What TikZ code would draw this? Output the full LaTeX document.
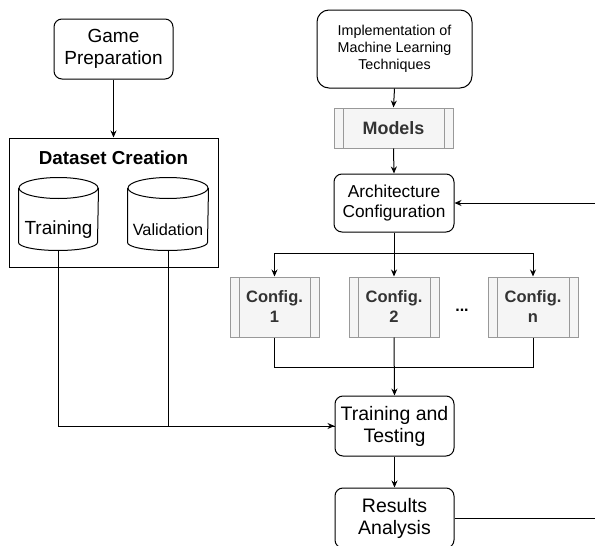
\documentclass[tikz,border=0pt]{standalone}
\usepackage{fontspec}
\setmainfont{Liberation Sans}
\usepackage{xcolor}
\usepackage{tikz}
\usetikzlibrary{shapes.geometric, arrows.meta, positioning, calc}

\definecolor{subfill}{HTML}{F5F5F5}
\definecolor{subline}{HTML}{999999}
\definecolor{subtext}{HTML}{333333}

\newcommand{\fs}[2]{\fontsize{#1}{#2}\selectfont}
% cylinder drawn round an (invisible) node
\newcommand{\dbdraw}[1]{%
    \draw ([yshift=-10.5pt]#1.north west) -- ([yshift=8pt]#1.south west)
        arc[start angle=180, end angle=360, x radius=\dbrx, y radius=8pt]
        -- ([yshift=-10.5pt]#1.north east);
    \draw ([yshift=-10.5pt]#1.north) ellipse[x radius=\dbrx, y radius=10.5pt];
}

\begin{document}
\begin{tikzpicture}[
    x=1pt, y=-1pt,
    line width=1pt,
    proc/.style={draw, rounded corners=8pt, fill=white, align=center, minimum width=119pt, minimum height=60pt, inner sep=1pt, font=\fs{19}{22}},
    subproc/.style={draw=subline, fill=subfill, text=subtext, align=center, minimum height=60pt, inner sep=1pt, font=\bfseries\fs{16.5}{20},
        path picture={
            \draw[subline] ([xshift=9pt]path picture bounding box.north west) -- ([xshift=9pt]path picture bounding box.south west);
            \draw[subline] ([xshift=-9pt]path picture bounding box.north east) -- ([xshift=-9pt]path picture bounding box.south east);
        }},
    db/.style={minimum width=79pt, minimum height=72pt, inner sep=0pt},
    arr/.style={-{Stealth[length=7pt, width=6pt]}}
]
    \useasboundingbox (0,0) rectangle (595,546);

    % Left branch: data
    \node[proc] (game) at (113.5, 49) {Game\\Preparation};
    \node[draw, minimum width=209pt, minimum height=129pt, inner sep=0pt] (dataset) at (113.5, 202.5) {};
    \node[font=\bfseries\fs{18.8}{22}] (dtitle) at (113.5, 158) {Dataset Creation};
    \node[db] (train) at (58.5, 214) {};
    \node[db, minimum width=80pt] (valid) at (168, 214) {};
    \def\dbrx{39.5pt}\dbdraw{train}
    \def\dbrx{40pt}\dbdraw{valid}
    \node[font=\fs{19}{22}] (traintxt) at (58.5, 230) {Training};
    \node[font=\fs{16.3}{22}] (validtxt) at (168, 230) {Validation};

    % Right branch: models
    \node[proc, rounded corners=12pt, minimum width=155pt, minimum height=78pt, font=\fs{14.3}{17}] (impl) at (394.5, 49) {Implementation of\\Machine Learning\\Techniques};
    \node[subproc, minimum width=119pt, minimum height=40pt, font=\bfseries\fs{17.9}{22}] (models) at (393.5, 128) {Models};
    \node[proc, minimum width=120pt, minimum height=58pt, font=\fs{17.3}{20}] (arch) at (394, 203) {Architecture\\Configuration};

    \node[subproc, minimum width=89pt] (cfg1) at (274.5, 307) {Config.\\1};
    \node[subproc, minimum width=90pt] (cfg2) at (394, 307) {Config.\\2};
    \node[subproc, minimum width=90pt] (cfgn) at (533, 307) {Config.\\n};
    \node[font=\bfseries\fs{16}{20}] (dots) at (462, 310) {...};

    \node[proc, font=\fs{19.5}{22}] (tt) at (394.5, 426) {Training and\\Testing};
    \node[proc, font=\fs{19.5}{22}] (res) at (394.5, 518) {Results\\Analysis};

    \coordinate (split) at (394, 253);
    \coordinate (merge) at (394, 367);
    \coordinate (outR) at (595, 518);
    \coordinate (inR) at (595, 203);

    % Connectors
    \draw[arr] (game.south) -- (dataset.north);
    \draw[arr] (train.south) |- (tt.west);
    \draw (valid.south) |- (tt.west);

    \draw[arr] (impl.south) -- (models.north);
    \draw[arr] (models.south) -- (arch.north);
    \draw (arch.south) -- (split);
    \draw[arr] (split) -| (cfg1.north);
    \draw[arr] (split) -- (cfg2.north);
    \draw[arr] (split) -| (cfgn.north);

    \draw (cfg1.south) |- (merge);
    \draw (cfgn.south) |- (merge);
    \draw[arr] (cfg2.south) -- (tt.north);
    \draw[arr] (tt.south) -- (res.north);

    % Feedback loop
    \draw (res.east) -- (outR);
    \draw[arr] (inR) -- (arch.east);

\end{tikzpicture}
\end{document}
